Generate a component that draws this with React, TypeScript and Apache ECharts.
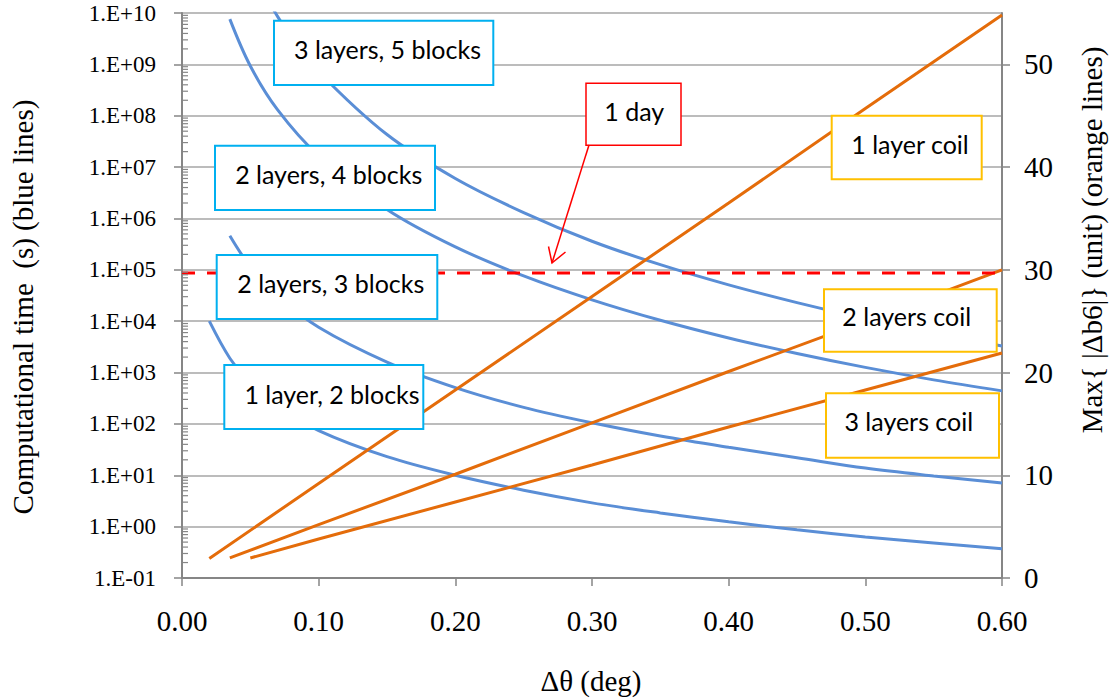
import React, { useEffect, useRef } from 'react';
import * as echarts from 'echarts';

// ---- Data ----
const dTheta3L5B = [0.06, 0.07, 0.08, 0.1, 0.15, 0.2, 0.25, 0.3, 0.35, 0.4, 0.45, 0.5, 0.55, 0.6];
const time3L5B = [2.5e10, 8.5e9, 3.4e9, 7.2e8, 4.3e7, 6.0e6, 1.3e6, 3.6e5, 1.26e5, 5.1e4, 2.3e4, 1.12e4, 5.9e3, 3.3e3];

const dTheta2L4B = [0.035, 0.05, 0.07, 0.1, 0.15, 0.2, 0.25, 0.3, 0.35, 0.4, 0.45, 0.5, 0.55, 0.6];
const time2L4B = [7.6e9, 9.3e8, 1.3e8, 1.66e7, 1.5e6, 2.8e5, 7.6e4, 2.6e4, 1.04e4, 4.7e3, 2.35e3, 1.26e3, 7.2e2, 4.4e2];

const dTheta2L3B = [0.035, 0.05, 0.07, 0.1, 0.15, 0.2, 0.25, 0.3, 0.35, 0.4, 0.45, 0.5, 0.55, 0.6];
const time2L3B = [4.6e5, 1.15e5, 3.1e4, 7.6e3, 1.6e3, 5.1e2, 2.1e2, 1.05e2, 58, 35, 22, 13.8, 9.7, 7.1];

const dTheta1L2B = [0.02, 0.035, 0.05, 0.07, 0.1, 0.15, 0.2, 0.25, 0.3, 0.35, 0.4, 0.45, 0.5, 0.55, 0.6];
const time1L2B = [1.0e4, 1.9e3, 610, 220, 74, 23, 10, 5.1, 2.9, 1.85, 1.24, 0.87, 0.63, 0.48, 0.37];

const dThetaCoil1 = [0.02, 0.1, 0.2, 0.3, 0.4, 0.5, 0.6];
const b6Coil1 = [1.9, 9.2, 18.3, 27.4, 36.5, 45.7, 54.8];
const dThetaCoil2 = [0.035, 0.1, 0.2, 0.3, 0.4, 0.5, 0.6];
const b6Coil2 = [1.95, 5.2, 10.1, 15.1, 20.1, 25.0, 30.0];
const dThetaCoil3 = [0.05, 0.1, 0.2, 0.3, 0.4, 0.5, 0.6];
const b6Coil3 = [1.95, 3.8, 7.4, 11.0, 14.7, 18.3, 21.9];

const oneDaySeconds = 86400;
const oneDayRange = [0, 0.6];

const rightTicks = [0, 10, 20, 30, 40, 50];

const blueLabels = ['3 layers, 5 blocks', '2 layers, 4 blocks', '2 layers, 3 blocks', '1 layer, 2 blocks'];
const orangeLabels = ['1 layer coil', '2 layers coil', '3 layers coil'];
const dayLabel = '1 day';

const xTitle = 'Δθ (deg)';
const leftTitle = 'Computational time  (s) (blue lines)';
const rightTitle = 'Max{ |Δb6|} (unit) (orange lines)';

// ---- Styles ----
const BLUE = '#5A8ED6';
const ORANGE = '#E46C0A';
const AXIS = '#868686';
const GRID = '#A6A6A6';
const SERIF = "'Liberation Serif', 'Times New Roman', serif";
const SANS = "Lato, 'Open Sans', sans-serif";

const pairs = (xs: number[], ys: number[]) => xs.map((x, i) => [x, ys[i]]);

const minorTickValues: number[] = [];
for (let e = -1; e < 10; e++) {
  for (let m = 2; m <= 9; m++) minorTickValues.push(m * Math.pow(10, e));
}

const expLabel = (v: number) => {
  const e = Math.round(Math.log10(v));
  return '1.E' + (e < 0 ? '-' : '+') + String(Math.abs(e)).padStart(2, '0');
};

const box = (x: number, y: number, w: number, h: number, stroke: string, lw: number) => ({
  type: 'rect',
  z: 100,
  shape: { x, y, width: w, height: h },
  style: { fill: '#fff', stroke, lineWidth: lw },
});
const label = (text: string, cx: number, cy: number) => ({
  type: 'text',
  z: 101,
  x: cx,
  y: cy,
  style: { text, fill: '#000', font: `25px ${SANS}`, align: 'center', verticalAlign: 'middle' },
});

export default function App() {
  const ref = useRef<HTMLDivElement>(null);
  useEffect(() => {
    if (!ref.current) return;
    const chart = echarts.init(ref.current, null, { renderer: 'svg' });
    const blueLine = (name: string, data: number[][]) => ({
      name,
      type: 'line',
      yAxisIndex: 0,
      data,
      symbol: 'none',
      smooth: 0.35,
      clip: true,
      lineStyle: { color: BLUE, width: 3 },
      z: 3,
    });
    const orangeLine = (name: string, data: number[][]) => ({
      name,
      type: 'line',
      yAxisIndex: 1,
      data,
      symbol: 'none',
      clip: true,
      lineStyle: { color: ORANGE, width: 3 },
      z: 4,
    });
    chart.setOption({
      animation: false,
      backgroundColor: '#fff',
      grid: { left: 182, right: 107, top: 13, bottom: 120 },
      xAxis: {
        type: 'value',
        min: 0,
        max: 0.6,
        interval: 0.1,
        axisLine: { lineStyle: { color: AXIS, width: 2 } },
        axisTick: { show: true, length: 8, lineStyle: { color: AXIS, width: 1.5 } },
        axisLabel: {
          formatter: (v: number) => v.toFixed(2),
          fontFamily: SERIF,
          fontSize: 29,
          color: '#000',
          margin: 28,
        },
        splitLine: { show: false },
      },
      yAxis: [
        {
          type: 'log',
          logBase: 10,
          min: 0.1,
          max: 1e10,
          interval: 1,
          splitNumber: 11,
          axisLine: { show: true, lineStyle: { color: AXIS, width: 2 } },
          axisTick: { show: true, length: 8, lineStyle: { color: AXIS, width: 1.5 } },
          axisLabel: {
            formatter: expLabel,
            fontFamily: SERIF,
            fontSize: 23,
            color: '#000',
            margin: 26,
          },
          splitLine: { show: true, lineStyle: { color: GRID, width: 1.5 } },
          minorTick: { show: false },
        },
        {
          type: 'value',
          position: 'right',
          min: 0,
          max: 55,
          axisLine: { show: true, lineStyle: { color: AXIS, width: 2 } },
          axisTick: { show: true, length: 8, customValues: rightTicks, lineStyle: { color: AXIS, width: 1.5 } },
          axisLabel: {
            customValues: rightTicks,
            fontFamily: SERIF,
            fontSize: 29,
            color: '#000',
            margin: 22,
          },
          splitLine: { show: false },
        },
      ],
      series: [
        blueLine(blueLabels[0], pairs(dTheta3L5B, time3L5B)),
        blueLine(blueLabels[1], pairs(dTheta2L4B, time2L4B)),
        blueLine(blueLabels[2], pairs(dTheta2L3B, time2L3B)),
        blueLine(blueLabels[3], pairs(dTheta1L2B, time1L2B)),
        orangeLine(orangeLabels[0], pairs(dThetaCoil1, b6Coil1)),
        orangeLine(orangeLabels[1], pairs(dThetaCoil2, b6Coil2)),
        orangeLine(orangeLabels[2], pairs(dThetaCoil3, b6Coil3)),
        {
          name: dayLabel,
          type: 'line',
          yAxisIndex: 0,
          data: oneDayRange.map((x) => [x, oneDaySeconds]),
          symbol: 'none',
          lineStyle: { color: '#FF0000', width: 3, type: [13, 12] },
          z: 5,
        },
        {
          type: 'custom',
          yAxisIndex: 0,
          silent: true,
          data: minorTickValues.map((v) => [0, v]),
          renderItem: (_p: any, api: any) => {
            const pt = api.coord([api.value(0), api.value(1)]);
            return {
              type: 'line',
              shape: { x1: pt[0], y1: pt[1], x2: pt[0] + 6, y2: pt[1] },
              style: { stroke: AXIS, lineWidth: 1.2 },
            };
          },
          z: 6,
        },
      ],
      graphic: [
        box(274, 20.7, 219.3, 64.3, '#00B0F0', 2),
        label(blueLabels[0], 387.5, 49),
        box(215, 145.7, 220, 64.3, '#00B0F0', 2),
        label(blueLabels[1], 328.7, 173.5),
        box(216.7, 255, 220.6, 64, '#00B0F0', 2),
        label(blueLabels[2], 330.8, 282.7),
        box(224.3, 365, 199, 64, '#00B0F0', 2),
        label(blueLabels[3], 332, 394),
        box(586, 83.3, 95, 62, '#FF0000', 1.5),
        label(dayLabel, 634.2, 111),
        {
          type: 'line',
          z: 100,
          shape: { x1: 589, y1: 145, x2: 552, y2: 263 },
          style: { stroke: '#FF0000', lineWidth: 1.5 },
        },
        {
          type: 'polyline',
          z: 100,
          shape: { points: [[548.5, 246.5], [552, 263], [565.5, 252]] },
          style: { stroke: '#FF0000', lineWidth: 1.5, fill: null },
        },
        box(831.7, 115.7, 150, 63.6, '#FFC000', 2),
        label(orangeLabels[0], 910, 143.5),
        box(824, 289.3, 172.7, 62.4, '#FFC000', 2),
        label(orangeLabels[1], 906.7, 316),
        box(826, 393.3, 173, 64.4, '#FFC000', 2),
        label(orangeLabels[2], 908.8, 421),
        {
          type: 'text',
          z: 100,
          x: 591,
          y: 681,
          style: { text: xTitle, fill: '#000', font: `29px ${SERIF}`, align: 'center', verticalAlign: 'middle' },
        },
        {
          type: 'text',
          z: 100,
          x: 23,
          y: 307,
          rotation: Math.PI / 2,
          style: { text: leftTitle, fill: '#000', font: `29px ${SERIF}`, align: 'center', verticalAlign: 'middle' },
        },
        {
          type: 'text',
          z: 100,
          x: 1092,
          y: 240,
          rotation: Math.PI / 2,
          style: { text: rightTitle, fill: '#000', font: `29px ${SERIF}`, align: 'center', verticalAlign: 'middle' },
        },
      ],
    });
    return () => chart.dispose();
  }, []);
  return <div ref={ref} style={{ position: 'fixed', left: 0, top: 0, width: 1109, height: 698 }} />;
}
